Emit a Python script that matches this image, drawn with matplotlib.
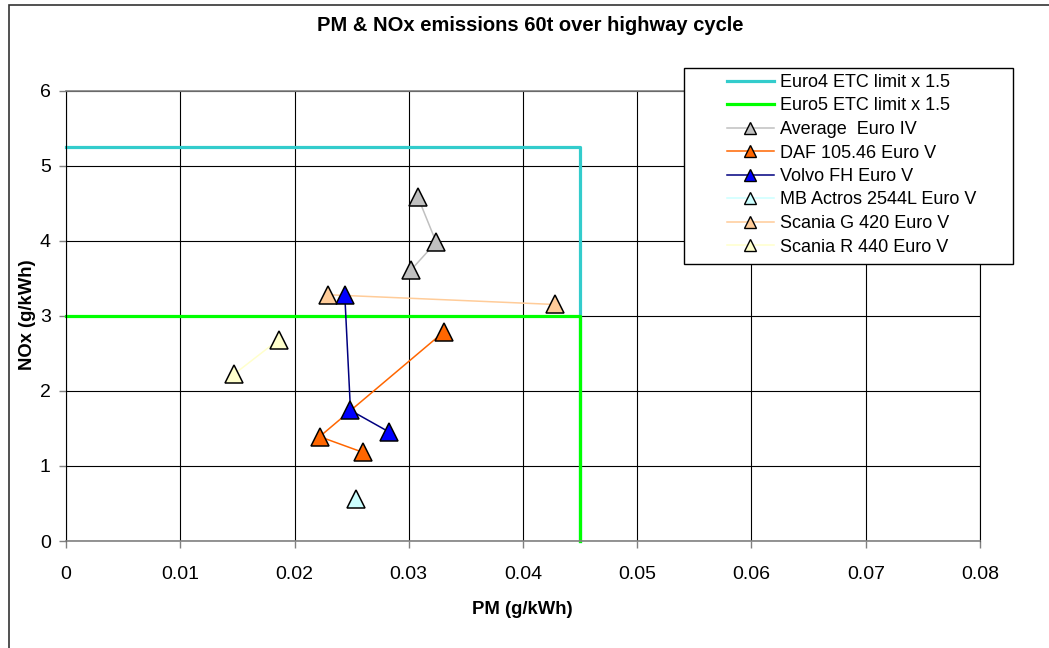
import numpy as np
import matplotlib
matplotlib.use('Agg')
import matplotlib.pyplot as plt
from matplotlib.lines import Line2D
from matplotlib.patches import Rectangle

plt.rcParams['font.family'] = ['Liberation Sans', 'DejaVu Sans']

# data (PM g/kWh, NOx g/kWh)
euro4_pm = [0, 0.045, 0.045]
euro4_nox = [5.25, 5.25, 0]
euro5_pm = [0, 0.045, 0.045]
euro5_nox = [3.0, 3.0, 0]

avg_pm = [0.0308, 0.0324, 0.0302]
avg_nox = [4.58, 3.98, 3.61]
daf_pm = [0.0331, 0.0222, 0.0260]
daf_nox = [2.79, 1.39, 1.18]
volvo_pm = [0.0244, 0.0249, 0.0283]
volvo_nox = [3.28, 1.74, 1.45]
mb_pm = [0.0254]
mb_nox = [0.56]
scg_pm = [0.0229, 0.0428]
scg_nox = [3.28, 3.15]
scr_pm = [0.0186, 0.0147]
scr_nox = [2.68, 2.22]

xticks = [0, 0.01, 0.02, 0.03, 0.04, 0.05, 0.06, 0.07, 0.08]
xticklabels = ['0', '0.01', '0.02', '0.03', '0.04', '0.05', '0.06', '0.07', '0.08']
yticks = [0, 1, 2, 3, 4, 5, 6]
yticklabels = ['0', '1', '2', '3', '4', '5', '6']

W, H = 1049, 648
fig = plt.figure(figsize=(W / 100, H / 100), dpi=100)
ax = fig.add_axes([66 / W, 1 - 541 / H, (980 - 66) / W, (541 - 90.5) / H])

# grid
ax.grid(True, color='black', lw=0.8, zorder=0)
ax.set_axisbelow(True)

ax.plot(euro4_pm, euro4_nox, color='#33CCCC', lw=2.3, zorder=2, clip_on=False)
ax.plot(euro5_pm, euro5_nox, color='#00FF00', lw=2.3, zorder=2, clip_on=False)

series = [
    ('Average  Euro IV', avg_pm, avg_nox, '#C0C0C0', '#C0C0C0'),
    ('DAF 105.46 Euro V', daf_pm, daf_nox, '#FF6600', '#FF6600'),
    ('Volvo FH Euro V', volvo_pm, volvo_nox, '#000080', '#0000FF'),
    ('MB Actros 2544L Euro V', mb_pm, mb_nox, '#CCFFFF', '#CCFFFF'),
    ('Scania G 420 Euro V', scg_pm, scg_nox, '#FFCC99', '#FFCC99'),
    ('Scania R 440 Euro V', scr_pm, scr_nox, '#FFFFCC', '#FFFFCC'),
]
for name, xs, ys, lc, fc in series:
    ax.plot(xs, ys, color=lc, lw=1.1, zorder=3)
    ax.plot(xs, ys, ls='none', marker='^', ms=12.5, mfc=fc, mec='black', mew=1.1, zorder=4)

ax.set_xlim(0, 0.08)
ax.set_ylim(0, 6)
ax.set_xticks(xticks)
ax.set_xticklabels(xticklabels)
ax.set_yticks(yticks)
ax.set_yticklabels(yticklabels)
ax.tick_params(axis='both', labelsize=14, colors='#808080', labelcolor='black',
               length=5, width=1, direction='out')
ax.tick_params(axis='x', pad=13)
ax.tick_params(axis='y', pad=6)
for s in ['top', 'bottom']:
    ax.spines[s].set_color('#808080')
    ax.spines[s].set_linewidth(1.2)
for s in ['left', 'right']:
    ax.spines[s].set_color('black')
    ax.spines[s].set_linewidth(0.8)

fig.text(530 / W, 1 - 31 / H, 'PM & NOx emissions 60t over highway cycle',
         ha='center', va='baseline', fontsize=14.5, fontweight='bold')
fig.text(522 / W, 1 - 614 / H, 'PM (g/kWh)', ha='center', va='baseline',
         fontsize=13.3, fontweight='bold')
fig.text(27 / W, 1 - 315 / H, 'NOx (g/kWh)', ha='center', va='center',
         rotation=90, fontsize=13.3, fontweight='bold')

# legend box
fig.patches.append(Rectangle((684 / W, 1 - 264 / H), (1013 - 684) / W, (264 - 68) / H,
                             transform=fig.transFigure, facecolor='white',
                             edgecolor='black', lw=1, zorder=4))
handles = [Line2D([], [], color='#33CCCC', lw=2.3),
           Line2D([], [], color='#00FF00', lw=2.3)]
labels = ['Euro4 ETC limit x 1.5', 'Euro5 ETC limit x 1.5']
for name, xs, ys, lc, fc in series:
    handles.append(Line2D([], [], color=lc, lw=1.1, marker='^', ms=8.5, mfc=fc,
                          mec='black', mew=1))
    labels.append(name)
fig.legend(handles, labels, loc='upper left', bbox_to_anchor=(727 / W, 1 - 74 / H),
           bbox_transform=fig.transFigure, frameon=False, fontsize=13,
           handlelength=2.6, handletextpad=0.35, labelspacing=0.36, borderpad=0,
           borderaxespad=0)

# outer chart border
fig.patches.append(Rectangle((9 / W, -0.1), 1.2, 1.1 - 5 / H, transform=fig.transFigure,
                             fill=False, edgecolor='#333333', lw=1.2, zorder=10))

plt.savefig('out.png', dpi=100)
